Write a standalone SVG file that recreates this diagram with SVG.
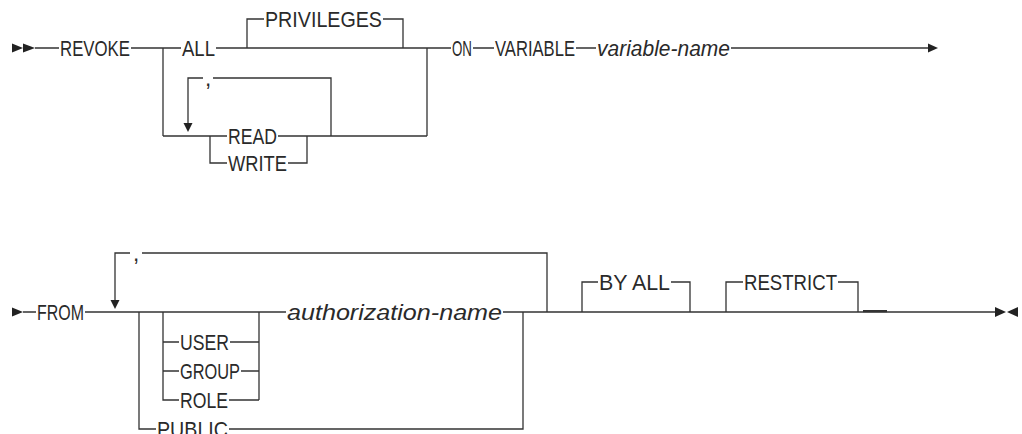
<svg xmlns="http://www.w3.org/2000/svg" width="1022" height="434" viewBox="0 0 1022 434">
<style>
.ln{fill:none;stroke:#333;stroke-width:1.3}
.ah{fill:#222}
.t{font-family:"Liberation Sans",Arial,sans-serif;font-size:22.5px;fill:#2a2a2a}
.i{font-style:italic}
</style>
<rect width="1022" height="434" fill="#fff"/>
<g id="connectors">
<path class="ln" d="M35 48H59M131 48H181M216 48H451M473 48H494M576 48H596M731 48H928"/>
<path class="ln" d="M163 48V136M427 48V136M247 48V19H264M383 19H403V48"/>
<path class="ln" d="M163 136H227M278 136H427M188 123V78H203M213 78H331V136M210 136V163H227M288 163H307V136"/>
<polygon class="ah" points="12,43.5 12,52.5 23,48"/>
<polygon class="ah" points="23,43.5 23,52.5 35,48"/>
<polygon class="ah" points="928,43.5 928,52.5 938,48"/>
<polygon class="ah" points="183.5,123 192.5,123 188,132"/>
<path class="ln" d="M23 312H36M85 312H286M503 312H995"/>
<path class="ln" d="M115 300V253H130M142 253H547V312"/>
<path class="ln" d="M139 312V429H156M229 429H523V312"/>
<path class="ln" d="M163 312V400H179M163 342H179M163 371H179M230 342H259M241 371H259M229 400H259M259 400V312"/>
<path class="ln" d="M582 312V282H598M671 282H690V312M726 312V282H743M838 282H858V312"/>
<rect x="863" y="310" width="24" height="2.2" fill="#333"/>
<polygon class="ah" points="110.5,300 119.5,300 115,309"/>
<polygon class="ah" points="12,307.5 12,316.5 23,312"/>
<polygon class="ah" points="995,307 995,317 1006,312"/>
<polygon class="ah" points="1018,307 1018,317 1007,312"/>
</g>
<g id="n-revoke"><text class="t" x="60" y="56" textLength="70" lengthAdjust="spacingAndGlyphs">REVOKE</text></g>
<g id="n-all"><text class="t" x="182" y="56" textLength="33" lengthAdjust="spacingAndGlyphs">ALL</text></g>
<g id="n-privileges"><text class="t" x="265" y="27" textLength="117" lengthAdjust="spacingAndGlyphs">PRIVILEGES</text></g>
<g id="n-on"><text class="t" x="452" y="56" textLength="20" lengthAdjust="spacingAndGlyphs">ON</text></g>
<g id="n-variable"><text class="t" x="495" y="56" textLength="80" lengthAdjust="spacingAndGlyphs">VARIABLE</text></g>
<g id="n-variable-name"><text class="t i" x="597" y="56" textLength="133" lengthAdjust="spacingAndGlyphs">variable-name</text></g>
<g id="n-comma1"><text class="t" x="205" y="85.5">,</text></g>
<g id="n-read"><text class="t" x="228" y="144" textLength="49" lengthAdjust="spacingAndGlyphs">READ</text></g>
<g id="n-write"><text class="t" x="228" y="171" textLength="59" lengthAdjust="spacingAndGlyphs">WRITE</text></g>
<g id="n-from"><text class="t" x="37" y="320" textLength="47" lengthAdjust="spacingAndGlyphs">FROM</text></g>
<g id="n-comma2"><text class="t" x="133" y="260.5">,</text></g>
<g id="n-user"><text class="t" x="180" y="350" textLength="49" lengthAdjust="spacingAndGlyphs">USER</text></g>
<g id="n-group"><text class="t" x="180" y="379" textLength="60" lengthAdjust="spacingAndGlyphs">GROUP</text></g>
<g id="n-role"><text class="t" x="180" y="408" textLength="48" lengthAdjust="spacingAndGlyphs">ROLE</text></g>
<g id="n-authorization-name"><text class="t i" x="287" y="320" textLength="215" lengthAdjust="spacingAndGlyphs">authorization-name</text></g>
<g id="n-public"><text class="t" x="157" y="437" textLength="71" lengthAdjust="spacingAndGlyphs">PUBLIC</text></g>
<g id="n-by-all"><text class="t" x="599" y="290" textLength="71" lengthAdjust="spacingAndGlyphs">BY ALL</text></g>
<g id="n-restrict"><text class="t" x="744" y="290" textLength="93" lengthAdjust="spacingAndGlyphs">RESTRICT</text></g>
</svg>
